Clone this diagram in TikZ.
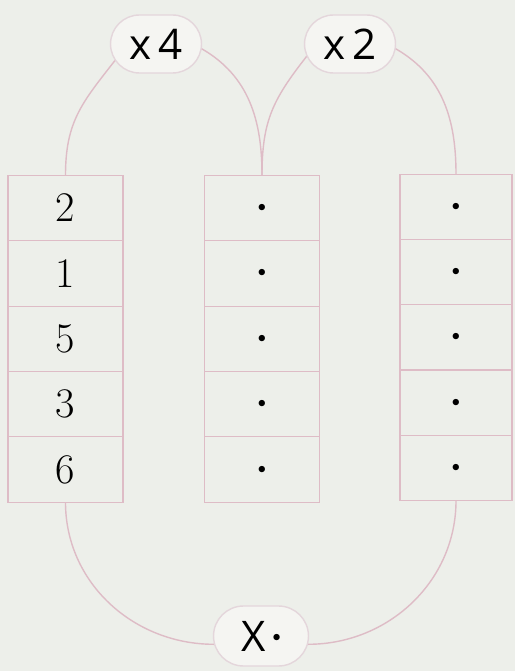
\documentclass[tikz,border=0pt]{standalone}
\usepackage{fontspec}
\usepackage{tikz}
\usetikzlibrary{shapes.misc, positioning}
\newfontfamily\bubblefont{Open Sans}
\definecolor{paper}{RGB}{237,239,234}
\definecolor{rosy}{RGB}{222,188,198}
\definecolor{bubblefill}{RGB}{245,245,242}
\definecolor{bubbleedge}{RGB}{228,214,219}

\begin{document}
\begin{tikzpicture}[x=0.02cm, y=-0.02cm,
  cell/.style={draw=rosy, line width=0.6pt, minimum width=2.3cm,
    minimum height=1.31cm, inner sep=0pt, outer sep=0pt,
    font=\fontsize{24}{28}\selectfont},
  bubble/.style={rounded rectangle, draw=bubbleedge, line width=0.8pt, fill=bubblefill,
    minimum width=1.96cm, minimum height=1.16cm, inner sep=2pt,
    font=\bubblefont\fontsize{24}{28}\selectfont},
  link/.style={draw=rosy, line width=0.8pt}]
\fill[paper] (0,0) rectangle (515,671);
\useasboundingbox (0,0) rectangle (515,671);

\newcommand{\pip}{{\fontsize{9}{9}\selectfont$\bullet$}}

% first column
\foreach \v [count=\i] in {2,1,5,3,6}
  \node[cell] (a\i) at (65.5, 208+65.4*\i-65.4) {\v};

% middle and right columns
\foreach \i in {1,...,5} {
  \node[cell] (b\i) at (262, 208+65.4*\i-65.4) {\pip};
  \node[cell, minimum width=2.24cm] (c\i) at (456, 207+65.2*\i-65.2) {\pip};
}

% multipliers
\node[bubble] (mulfour) at (156,44) {x\,4};
\node[bubble] (multwo) at (350,44) {x\,2};
\node[bubble, minimum width=2.04cm, minimum height=1.2cm] (mulres) at (261,636)
  {X\,\raisebox{0.22em}{\pip}};

% arcs
\draw[link] (a1.north) to[out=90, in=232, looseness=1.1] (mulfour.202);
\draw[link] (mulfour.-6) to[out=-30, in=90] (b1.north);
\draw[link] (b1.north) to[out=90, in=232, looseness=1.1] (multwo.196);
\draw[link] (multwo.-6) to[out=-30, in=90] (c1.north);
\draw[link] (a5.south) to[out=-90, in=180] (mulres.190);
\draw[link] (c5.south) to[out=-90, in=0] (mulres.-10);
\end{tikzpicture}
\end{document}
